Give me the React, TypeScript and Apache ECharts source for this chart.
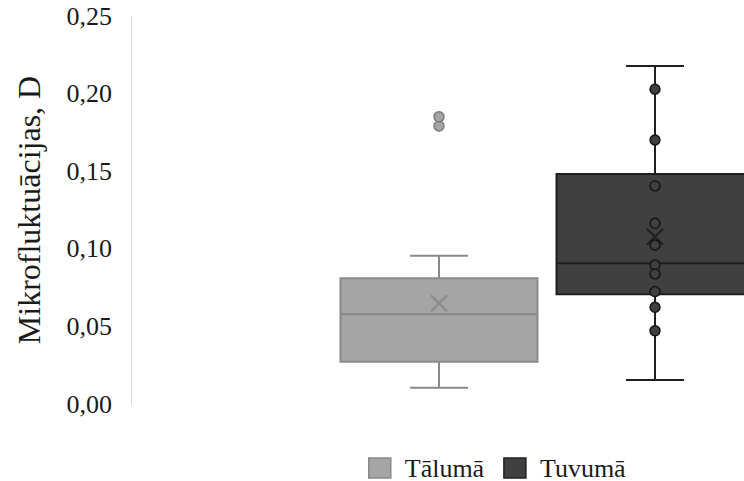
import React, { useEffect, useRef } from "react";
import * as echarts from "echarts";

const categories = ["Tālumā", "Tuvumā"];
// [min whisker, Q1, median, Q3, max whisker, mean]
const taluma = [0.0105, 0.0273, 0.0578, 0.081, 0.0956, 0.0649];
const tuvuma = [0.0155, 0.0707, 0.0907, 0.1482, 0.2178, 0.1078];
const talumaOutliers = [0.1791, 0.1851];
const tuvumaPoints = [0.2028, 0.1701, 0.1405, 0.1164, 0.1024, 0.0895, 0.0838, 0.0724, 0.0623, 0.0472];
const yTicks = { min: 0, max: 0.25, interval: 0.05 };

const FONT = "'Liberation Serif', 'Times New Roman', serif";
const colors = {
  talumaFill: "#a5a5a5",
  talumaLine: "#898989",
  tuvumaFill: "#404040",
  tuvumaLine: "#1f1f1f",
};

function makeRender(fill: string, line: string) {
  return (params: any, api: any) => {
    const cat = api.value(0);
    const mn = api.value(1), q1 = api.value(2), med = api.value(3), q3 = api.value(4), mx = api.value(5), mean = api.value(6);
    const band = api.size([1, 0])[0];
    const bw = band * 0.912;
    const cw = bw * 0.294;
    const pMin = api.coord([cat, mn]);
    const pQ1 = api.coord([cat, q1]);
    const pMed = api.coord([cat, med]);
    const pQ3 = api.coord([cat, q3]);
    const pMax = api.coord([cat, mx]);
    const pMean = api.coord([cat, mean]);
    const cx = pMed[0];
    const ls = { stroke: line, lineWidth: 2 };
    const xs = 8;
    return {
      type: "group",
      children: [
        { type: "line", shape: { x1: cx, y1: pQ3[1], x2: cx, y2: pMax[1] }, style: ls },
        { type: "line", shape: { x1: cx, y1: pQ1[1], x2: cx, y2: pMin[1] }, style: ls },
        { type: "line", shape: { x1: cx - cw / 2, y1: pMax[1], x2: cx + cw / 2, y2: pMax[1] }, style: ls },
        { type: "line", shape: { x1: cx - cw / 2, y1: pMin[1], x2: cx + cw / 2, y2: pMin[1] }, style: ls },
        {
          type: "rect",
          shape: { x: cx - bw / 2, y: pQ3[1], width: bw, height: pQ1[1] - pQ3[1] },
          style: { fill, stroke: line, lineWidth: 2 },
        },
        { type: "line", shape: { x1: cx - bw / 2, y1: pMed[1], x2: cx + bw / 2, y2: pMed[1] }, style: ls },
        { type: "line", shape: { x1: cx - xs, y1: pMean[1] - xs, x2: cx + xs, y2: pMean[1] + xs }, style: ls },
        { type: "line", shape: { x1: cx - xs, y1: pMean[1] + xs, x2: cx + xs, y2: pMean[1] - xs }, style: ls },
      ],
    };
  };
}

export default function App() {
  const ref = useRef<HTMLDivElement>(null);
  useEffect(() => {
    if (!ref.current) return;
    const chart = echarts.init(ref.current, undefined, { renderer: "svg" });
    chart.setOption({
      animation: false,
      backgroundColor: "#ffffff",
      grid: { left: 331, top: 16, width: 432, height: 388, outerBoundsMode: "none", containLabel: false },
      legend: {
        left: 363,
        top: 450,
        itemWidth: 22,
        itemHeight: 20,
        itemGap: 19,
        icon: "rect",
        textStyle: { fontSize: 26, lineHeight: 26, fontFamily: FONT, color: "#1a1a1a", padding: [0, 0, 0, 9] },
        data: [
          { name: categories[0], itemStyle: { color: colors.talumaFill, borderColor: colors.talumaLine, borderWidth: 1.5 } },
          { name: categories[1], itemStyle: { color: colors.tuvumaFill, borderColor: colors.tuvumaLine, borderWidth: 1.5 } },
        ],
      },
      xAxis: {
        type: "category",
        data: categories,
        show: false,
      },
      yAxis: {
        type: "value",
        min: yTicks.min,
        max: yTicks.max,
        interval: yTicks.interval,
        offset: 200,
        axisLine: { show: true, lineStyle: { color: "#d9d9d9", width: 1 } },
        axisTick: { show: false },
        splitLine: { show: false },
        axisLabel: {
          fontSize: 26,
          fontFamily: FONT,
          color: "#1a1a1a",
          margin: 19,
          formatter: (v: number) => v.toFixed(2).replace(".", ","),
        },
        name: "Mikrofluktuācijas, D",
        nameLocation: "middle",
        nameGap: 86,
        nameTextStyle: { fontSize: 32, fontFamily: FONT, color: "#1a1a1a" },
      },
      series: [
        {
          name: categories[0],
          type: "custom",
          renderItem: makeRender(colors.talumaFill, colors.talumaLine),
          itemStyle: { color: colors.talumaFill },
          encode: { x: 0, y: [1, 2, 3, 4, 5, 6] },
          data: [[0, ...taluma]],
          z: 2,
        },
        {
          name: categories[1],
          type: "custom",
          renderItem: makeRender(colors.tuvumaFill, colors.tuvumaLine),
          itemStyle: { color: colors.tuvumaFill },
          encode: { x: 0, y: [1, 2, 3, 4, 5, 6] },
          data: [[1, ...tuvuma]],
          z: 2,
        },
        {
          name: "outliers",
          type: "scatter",
          symbol: "circle",
          symbolSize: 10,
          itemStyle: { color: colors.talumaFill, borderColor: "#7a7a7a", borderWidth: 1.5, opacity: 1 },
          data: talumaOutliers.map((v) => [0, v]),
          z: 3,
        },
        {
          name: "points",
          type: "scatter",
          symbol: "circle",
          symbolSize: 10,
          itemStyle: { color: colors.tuvumaFill, borderColor: "#151515", borderWidth: 1.5, opacity: 1 },
          data: tuvumaPoints.map((v) => [1, v]),
          z: 3,
        },
      ],
    });
    return () => chart.dispose();
  }, []);
  return <div ref={ref} style={{ width: 744, height: 481, position: "absolute", left: 0, top: 0 }} />;
}
